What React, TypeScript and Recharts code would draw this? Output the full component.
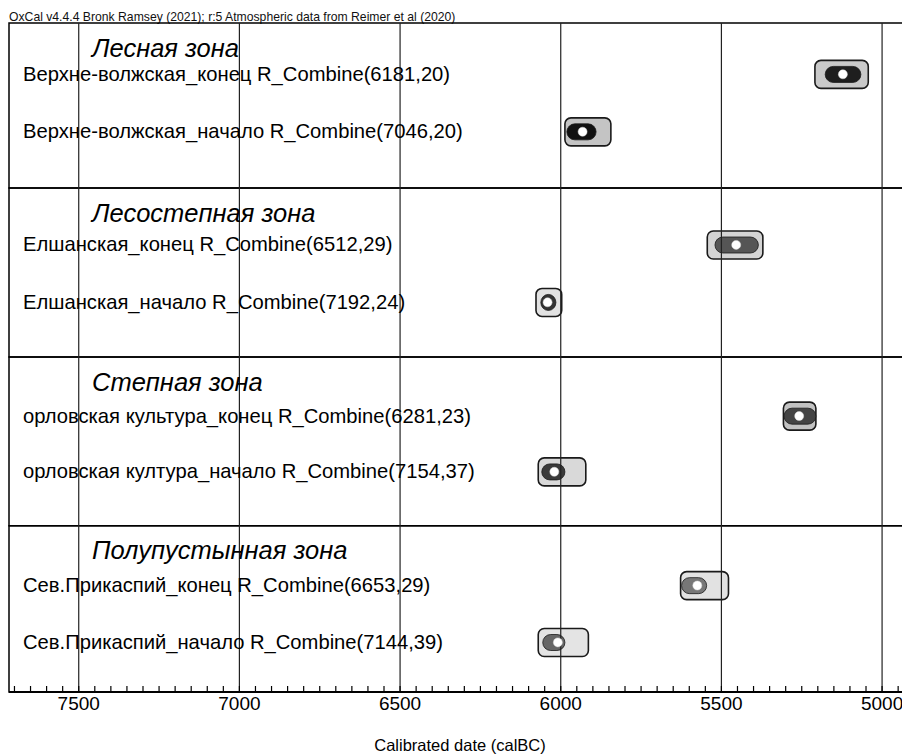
import React from 'react';
import { ComposedChart, Bar, Scatter, XAxis, YAxis, ReferenceLine, ReferenceArea, Cell } from 'recharts';

// zone headers, one per panel
const zones = ['Лесная зона', 'Лесостепная зона', 'Степная зона', 'Полупустынная зона'];

// model rows, two per zone
const rowLabels = [
  'Верхне-волжская_конец R_Combine(6181,20)',
  'Верхне-волжская_начало R_Combine(7046,20)',
  'Елшанская_конец R_Combine(6512,29)',
  'Елшанская_начало R_Combine(7192,24)',
  'орловская культура_конец R_Combine(6281,23)',
  'орловская култура_начало R_Combine(7154,37)',
  'Сев.Прикаспий_конец R_Combine(6653,29)',
  'Сев.Прикаспий_начало R_Combine(7144,39)',
];

// calibrated ranges, years calBC
const outerFrom = [5209, 5987, 5544, 6077, 5307, 6070, 5627, 6070];
const outerTo = [5043, 5844, 5371, 5997, 5206, 5922, 5478, 5914];
const innerFrom = [5177, 5981, 5520, 6062, 5305, 6059, 5624, 6056];
const innerTo = [5066, 5890, 5385, 6015, 5206, 5987, 5546, 5987];
const medians = [5122, 5932, 5454, 6041, 5258, 6020, 5575, 6009];

// axis
const majorTicks = [7500, 7000, 6500, 6000, 5500, 5000];
const minorTicks = [
  7700, 7650, 7600, 7550, 7500, 7450, 7400, 7350, 7300, 7250, 7200, 7150, 7100, 7050, 7000,
  6950, 6900, 6850, 6800, 6750, 6700, 6650, 6600, 6550, 6500, 6450, 6400, 6350, 6300, 6250,
  6200, 6150, 6100, 6050, 6000, 5950, 5900, 5850, 5800, 5750, 5700, 5650, 5600, 5550, 5500,
  5450, 5400, 5350, 5300, 5250, 5200, 5150, 5100, 5050, 5000, 4950,
];

// colours per row
const OUTER_FILL = ['#c9c9c9', '#c4c4c4', '#d4d4d4', '#e2e2e2', '#c2c2c2', '#d9d9d9', '#e2e2e2', '#e4e4e4'];
const INNER_FILL = ['#1e1e1e', '#111111', '#555555', '#333333', '#444444', '#3a3a3a', '#777777', '#666666'];

const FONT = 'Liberation Sans, Arial, sans-serif';

// vertical layout in row slots (plot is 12 slots high)
const PANEL_EDGES = [0, 2.96, 5.99, 9.02, 12];
const HEADER_SLOTS = [0.46, 3.42, 6.45, 9.46];
const ROW_SLOTS = [0.92, 1.95, 3.98, 5.01, 7.05, 8.05, 10.09, 11.11];
const LABEL_X = 15;
const HEADER_X = 84;

const table = rowLabels.map((label, i) => ({
  label,
  pos: ROW_SLOTS[i],
  outer: [outerFrom[i], outerTo[i]],
  inner: [innerFrom[i], innerTo[i]],
  mid: medians[i],
}));

const yTicks: number[] = [];
const yTickText: { text: string; header: boolean }[] = [];
zones.forEach((z, k) => {
  yTicks.push(HEADER_SLOTS[k]);
  yTickText.push({ text: z, header: true });
  yTicks.push(ROW_SLOTS[k * 2]);
  yTickText.push({ text: rowLabels[k * 2], header: false });
  yTicks.push(ROW_SLOTS[k * 2 + 1]);
  yTickText.push({ text: rowLabels[k * 2 + 1], header: false });
});

const RowTick = (props: any) => {
  const { y, payload } = props;
  const idx = yTicks.findIndex((v) => Math.abs(v - payload.value) < 1e-6);
  const t = yTickText[idx];
  if (!t) return null;
  if (t.header) {
    return (
      <text x={HEADER_X} y={y} dy={8.5} fontSize={25.5} fontStyle="italic" fill="#000" fontFamily={FONT} textAnchor="start">
        {t.text}
      </text>
    );
  }
  return (
    <text x={LABEL_X} y={y} dy={6.5} fontSize={20.2} fill="#000" fontFamily={FONT} textAnchor="start">
      {t.text}
    </text>
  );
};

const DateTick = (props: any) => {
  const { x, y, payload } = props;
  const major = payload.value % 500 === 0;
  return (
    <g>
      <line x1={x} x2={x} y1={y - 6} y2={y} stroke="#000" strokeWidth={1.2} />
      {major && (
        <text x={x} y={y + 18} textAnchor="middle" fontSize={19} fill="#000" fontFamily={FONT}>
          {payload.value}
        </text>
      )}
    </g>
  );
};

const boxShape = (h: number, r: number, strokeW: number) => (props: any) => {
  const { x, y, width, height, fill } = props;
  const left = Math.min(x, x + width);
  const w = Math.abs(width);
  const cy = y + height / 2;
  return (
    <rect x={left} y={cy - h / 2} width={w} height={h} rx={r} ry={r} fill={fill} stroke="#1a1a1a" strokeWidth={strokeW} />
  );
};

const Dot = (props: any) => {
  const { cx, cy } = props;
  return <circle cx={cx} cy={cy} r={4.5} fill="#fff" stroke="#ddd" strokeWidth={0.5} />;
};

export default function App() {
  return (
    <div style={{ position: 'relative', width: 902, height: 748, overflow: 'hidden', fontFamily: FONT }}>
      <div style={{ position: 'absolute', left: 1, top: 3, fontSize: 12.2, lineHeight: '12px', color: '#111', whiteSpace: 'nowrap' }}>
        OxCal v4.4.4 Bronk Ramsey (2021); r:5 Atmospheric data from Reimer et al (2020)
      </div>
      <ComposedChart
        width={904}
        height={748}
        layout="vertical"
        data={table}
        margin={{ top: 15, right: 1, bottom: 0, left: 0 }}
      >
        <XAxis
          type="number"
          domain={[4910, 7717]}
          reversed
          allowDataOverflow
          ticks={minorTicks}
          interval={0}
          tickSize={0}
          tickMargin={0}
          tick={<DateTick />}
          axisLine={{ stroke: '#000', strokeWidth: 2 }}
          height={64}
          label={{ value: 'Calibrated date (calBC)', position: 'insideBottom', offset: 5, fontSize: 16.5, fill: '#000', fontFamily: FONT }}
        />
        <YAxis
          yAxisId="outer"
          type="number"
          dataKey="pos"
          domain={[0, 12]}
          ticks={yTicks}
          interval={0}
          width={1}
          tickSize={0}
          tickMargin={0}
          axisLine={false}
          tickLine={false}
          tick={(p: any) => <RowTick {...p} />}
        />
        <YAxis yAxisId="inner" type="number" dataKey="pos" domain={[0, 12]} ticks={yTicks} hide />
        {zones.map((z, k) => (
          <ReferenceArea
            key={z}
            yAxisId="outer"
            y1={PANEL_EDGES[k]}
            y2={PANEL_EDGES[k + 1]}
            fill="none"
            stroke="#000"
            strokeWidth={1.5}
          />
        ))}
        <Bar yAxisId="outer" dataKey="outer" barSize={20} isAnimationActive={false} shape={boxShape(28, 6, 1.6)}>
          {table.map((d, i) => (
            <Cell key={i} fill={OUTER_FILL[i]} />
          ))}
        </Bar>
        <Bar yAxisId="inner" dataKey="inner" barSize={14} isAnimationActive={false} shape={boxShape(16, 8, 0.8)}>
          {table.map((d, i) => (
            <Cell key={i} fill={INNER_FILL[i]} />
          ))}
        </Bar>
        <Scatter yAxisId="outer" dataKey="mid" isAnimationActive={false} shape={<Dot />} />
        {majorTicks.map((t) => (
          <ReferenceLine key={t} yAxisId="outer" x={t} stroke="#222" strokeWidth={1.2} />
        ))}
      </ComposedChart>
    </div>
  );
}
